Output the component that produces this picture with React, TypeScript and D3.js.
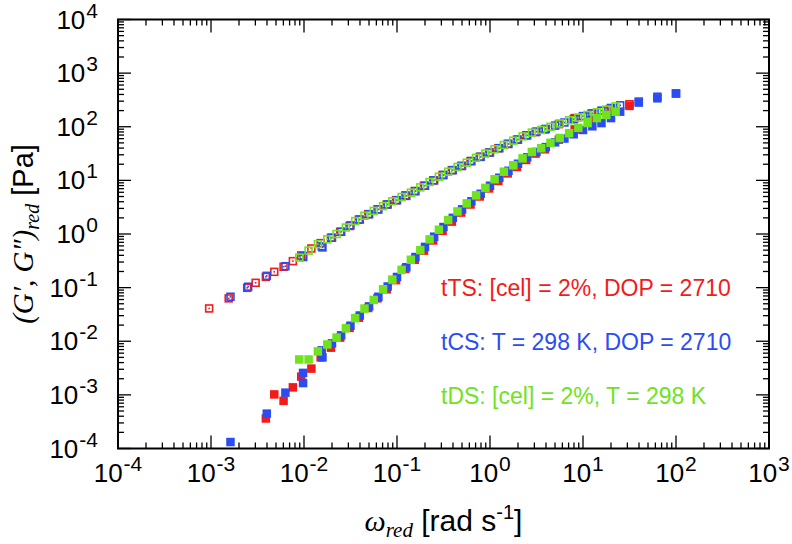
import React from "react";
import * as d3 from "d3";

// ---------- data ----------
// tTS (red)
const omegaTTS = [0.000955, 0.00155, 0.00245, 0.00302, 0.00389, 0.00479, 0.00603, 0.00759, 0.00933, 0.012, 0.0151, 0.0195, 0.0245, 0.0309, 0.0389, 0.049, 0.0617, 0.0776, 0.0977, 0.123, 0.155, 0.195, 0.245, 0.309, 0.389, 0.49, 0.617, 0.776, 0.977, 1.23, 1.55, 1.95, 2.45, 3.09, 3.89, 5.5, 8.13, 12.3, 19.5, 31.6];
const gpTTS: (number | null)[] = [null, null, null, null, 0.000363, 0.00102, 0.000776, 0.00138, 0.00219, 0.00309, 0.00501, 0.00759, 0.0117, 0.0178, 0.0275, 0.0417, 0.0631, 0.0933, 0.138, 0.224, 0.331, 0.49, 0.759, 1.15, 1.7, 2.51, 3.55, 5.01, 7.08, 9.77, 13.5, 17.8, 24.0, 31.6, 38.0, 57.5, 89.1, 135, 191, 245];
const gppTTS = [0.0409, 0.063, 0.0991, 0.123, 0.159, 0.197, 0.245, 0.312, 0.398, 0.537, 0.676, 0.851, 1.1, 1.41, 1.86, 2.34, 2.88, 3.55, 4.27, 5.25, 6.31, 7.94, 10.0, 12.6, 15.5, 18.6, 22.9, 27.5, 33.1, 39.8, 47.9, 57.5, 69.2, 79.4, 89.1, 112, 145, 174, 214, 263];

// tCS (blue)
const omegaTCS = [0.00162, 0.00251, 0.00398, 0.00631, 0.00977, 0.00977, 0.0155, 0.0158, 0.02, 0.0251, 0.0316, 0.0398, 0.0501, 0.0631, 0.0794, 0.1, 0.126, 0.158, 0.2, 0.251, 0.316, 0.398, 0.501, 0.631, 0.794, 1.0, 1.26, 1.58, 2.0, 2.51, 3.16, 3.98, 5.01, 6.31, 7.94, 10.0, 12.6, 15.8, 20.0, 25.1, 39.8, 63.1, 100];
const gpTCS: (number | null)[] = [0.000132, null, 0.000447, 0.0011, 0.00257, 0.00166, 0.00676, 0.00501, 0.00912, 0.0129, 0.0195, 0.0302, 0.0447, 0.0676, 0.105, 0.158, 0.24, 0.372, 0.575, 0.891, 1.35, 2.0, 2.88, 4.07, 5.62, 7.94, 11.2, 15.1, 20.4, 26.9, 33.9, 41.7, 51.3, 60.3, 72.4, 87.1, 102, 117, 145, 191, 282, 339, 417];
const gppTCS = [0.0676, 0.104, 0.166, 0.251, 0.389, 0.372, 0.589, 0.562, 0.851, 1.1, 1.45, 1.86, 2.34, 2.88, 3.55, 4.27, 5.13, 6.31, 7.94, 10.0, 12.6, 15.5, 18.6, 22.9, 27.5, 33.1, 39.8, 47.9, 57.5, 69.2, 81.3, 91.2, 105, 120, 138, 158, 178, 200, 224, 251, 295, 363, 417];

// tDS (green)
const omegaTDS = [0.0089, 0.0112, 0.0141, 0.0178, 0.0224, 0.0282, 0.0355, 0.0447, 0.0562, 0.0708, 0.0891, 0.112, 0.141, 0.178, 0.224, 0.282, 0.355, 0.447, 0.562, 0.708, 0.891, 1.12, 1.41, 1.78, 2.24, 2.82, 3.55, 4.47, 5.62, 7.08, 8.91, 11.2, 14.1, 17.8, 22.4];
const gpTDS = [0.00457, 0.00457, 0.00646, 0.00871, 0.0117, 0.0174, 0.0269, 0.0407, 0.0589, 0.0933, 0.141, 0.214, 0.331, 0.501, 0.794, 1.2, 1.82, 2.63, 3.72, 5.25, 7.24, 10.5, 14.5, 19.1, 25.7, 33.9, 39.8, 50.1, 61.7, 75.9, 95.5, 117, 145, 166, 191];
const gppTDS = [0.363, 0.49, 0.646, 0.794, 1.0, 1.32, 1.74, 2.19, 2.69, 3.31, 4.07, 4.9, 5.89, 7.41, 9.33, 11.7, 14.5, 17.8, 21.4, 26.3, 31.6, 38.0, 45.7, 55.0, 66.1, 77.6, 87.1, 100, 115, 132, 148, 166, 186, 209, 240];

const legendLabels = [
  "tTS: [cel] = 2%, DOP = 2710",
  "tCS: T = 298 K, DOP = 2710",
  "tDS: [cel] = 2%, T = 298 K",
];
const seriesColors = ["#f41a1a", "#2b4cf2", "#6fe31c"];

const xTickExps = [-4, -3, -2, -1, 0, 1, 2, 3];
const yTickExps = [-4, -3, -2, -1, 0, 1, 2, 3, 4];

// ---------- layout ----------
const W = 792;
const H = 544;
const L = 118;
const R = 769;
const T = 19.5;
const B = 448.5;

const x = d3.scaleLog().domain([1e-4, 1e3]).range([L, R]);
const y = d3.scaleLog().domain([1e-4, 1e4]).range([B, T]);

const sans = "'Liberation Sans', Arial, Helvetica, sans-serif";
const serif = "'Liberation Serif', 'Times New Roman', serif";

type Set = { omega: number[]; gp: (number | null)[]; gpp: number[]; color: string };
const sets: Set[] = [
  { omega: omegaTTS, gp: gpTTS, gpp: gppTTS, color: seriesColors[0] },
  { omega: omegaTCS, gp: gpTCS, gpp: gppTCS, color: seriesColors[1] },
  { omega: omegaTDS, gp: gpTDS, gpp: gppTDS, color: seriesColors[2] },
];

function minorTicks(lo: number, hi: number) {
  const out: { v: number; major: boolean }[] = [];
  for (let e = lo; e <= hi; e++) {
    out.push({ v: Math.pow(10, e), major: true });
    if (e < hi) for (let m = 2; m <= 9; m++) out.push({ v: m * Math.pow(10, e), major: false });
  }
  return out;
}

export default function App() {
  const xt = minorTicks(-4, 3);
  const yt = minorTicks(-4, 4);
  const MJ = 13;
  const MN = 6;
  const S = 8.5;
  return (
    <svg width={W} height={H} style={{ position: "absolute", left: 0, top: 0, background: "#fff" }}>
      <rect x={0} y={0} width={W} height={H} fill="#fff" />
      {/* ticks */}
      <g stroke="#000" strokeWidth={1.3}>
        {xt.map((t, i) => {
          const px = x(t.v);
          const len = t.major ? MJ : MN;
          return (
            <g key={"x" + i}>
              <line x1={px} x2={px} y1={B} y2={B - len} />
              <line x1={px} x2={px} y1={T} y2={T + len} />
            </g>
          );
        })}
        {yt.map((t, i) => {
          const py = y(t.v);
          const len = t.major ? MJ : MN;
          return (
            <g key={"y" + i}>
              <line x1={L} x2={L + len} y1={py} y2={py} />
              <line x1={R} x2={R - len} y1={py} y2={py} />
            </g>
          );
        })}
      </g>
      {/* data: G' filled, G'' open */}
      {sets.map((s, si) => (
        <g key={"s" + si}>
          {s.omega.map((w, i) => {
            const v = s.gp[i];
            if (v == null) return null;
            return <rect key={"f" + i} x={x(w) - S / 2} y={y(v) - S / 2} width={S} height={S} fill={s.color} />;
          })}
          {s.omega.map((w, i) => {
            const v = s.gpp[i];
            const cx = x(w);
            const cy = y(v);
            return (
              <g key={"o" + i}>
                <rect x={cx - S / 2 + 0.8} y={cy - S / 2 + 0.8} width={S - 1.6} height={S - 1.6} fill="none" stroke={s.color} strokeWidth={1.6} />
                <rect x={cx - 0.8} y={cy - 0.8} width={1.6} height={1.6} fill={s.color} />
              </g>
            );
          })}
        </g>
      ))}
      {/* frame */}
      <rect x={L} y={T} width={R - L} height={B - T} fill="none" stroke="#000" strokeWidth={2} />
      {/* tick labels */}
      <g fontFamily={sans} fill="#000">
        {xTickExps.map((e) => (
          <text key={"xl" + e} x={x(Math.pow(10, e))} y={482} textAnchor="middle" fontSize={26}>
            <tspan>10</tspan>
            <tspan dx={1} dy={-11} fontSize={21}>{String(e)}</tspan>
          </text>
        ))}
        {yTickExps.map((e) => (
          <text key={"yl" + e} x={98} y={y(Math.pow(10, e)) + 9} textAnchor="end" fontSize={26}>
            <tspan>10</tspan>
            <tspan dx={1} dy={-11} fontSize={21}>{String(e)}</tspan>
          </text>
        ))}
      </g>
      {/* legend text */}
      <g fontFamily={sans} fontSize={23}>
        {legendLabels.map((lab, i) => (
          <text key={"lg" + i} x={441} y={296 + i * 54} fill={seriesColors[i]}>
            {lab}
          </text>
        ))}
      </g>
      {/* x axis title */}
      <text x={(L + R) / 2} y={531} textAnchor="middle" fontSize={30} fontFamily={sans}>
        <tspan fontFamily={serif} fontStyle="italic">ω</tspan>
        <tspan fontFamily={serif} fontStyle="italic" fontSize={21} dy={6}>red</tspan>
        <tspan dy={-6}> [rad s</tspan>
        <tspan fontSize={20} dy={-12}>-1</tspan>
        <tspan dy={12}>]</tspan>
      </text>
      {/* y axis title */}
      <text transform={`translate(33, ${(T + B) / 2}) rotate(-90)`} textAnchor="middle" fontSize={29} fontFamily={sans}>
        <tspan fontFamily={serif} fontStyle="italic">(G′, G″)</tspan>
        <tspan fontFamily={serif} fontStyle="italic" fontSize={20} dy={6}>red</tspan>
        <tspan dy={-6}> [Pa]</tspan>
      </text>
    </svg>
  );
}
